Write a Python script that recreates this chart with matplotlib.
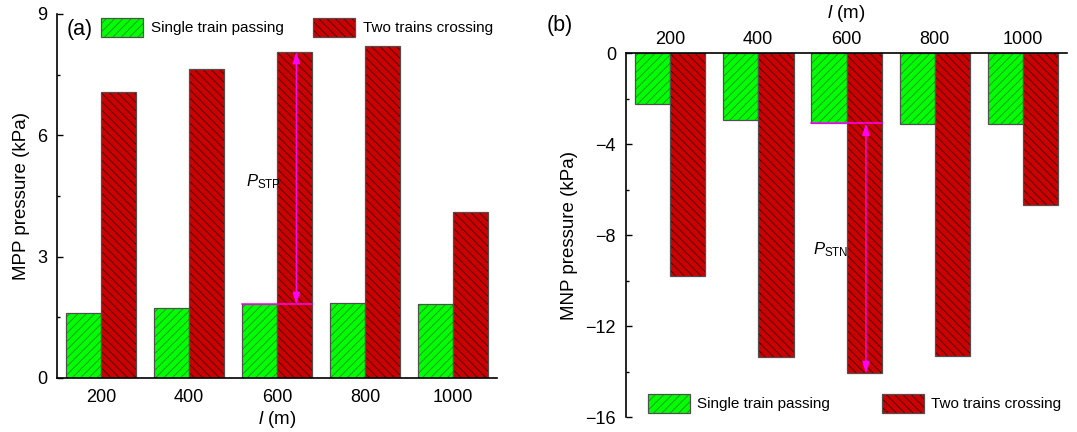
import matplotlib
matplotlib.use("Agg")
import matplotlib.pyplot as plt
import numpy as np
from matplotlib.ticker import MultipleLocator
from matplotlib.legend_handler import HandlerTuple

plt.rcParams['font.family'] = ['Liberation Sans', 'DejaVu Sans']
plt.rcParams['mathtext.fontset'] = 'custom'
plt.rcParams['mathtext.rm'] = 'Liberation Sans'
plt.rcParams['mathtext.it'] = 'Liberation Sans:italic'
plt.rcParams['hatch.linewidth'] = 0.6

lengths = ['200', '400', '600', '800', '1000']
mpp_single = [1.61, 1.73, 1.82, 1.85, 1.84]
mpp_two = [7.08, 7.64, 8.07, 8.20, 4.10]
mnp_single = [-2.24, -2.95, -3.08, -3.09, -3.11]
mnp_two = [-9.79, -13.36, -14.07, -13.32, -6.67]

GREEN = '#00ff00'
RED = '#cc0000'
GREEN_H = '#1c8c1c'
RED_H = '#3a0000'
EDGE = '#505050'
MAG = '#ff00ff'

fig = plt.figure(figsize=(10.77, 4.32), dpi=100)
axA = fig.add_axes([0.0529, 0.125, 0.4085, 0.8426])
axB = fig.add_axes([0.581, 0.034, 0.410, 0.8426])

x = np.arange(len(lengths))
w = 0.4


def draw_bars(ax, s, t):
    b1 = ax.bar(x - w / 2, s, w, color=GREEN, edgecolor=GREEN_H, hatch='////', linewidth=0)
    o1 = ax.bar(x - w / 2, s, w, fill=False, edgecolor=EDGE, linewidth=0.9)
    b2 = ax.bar(x + w / 2, t, w, color=RED, edgecolor=RED_H, hatch='\\\\\\\\', linewidth=0)
    o2 = ax.bar(x + w / 2, t, w, fill=False, edgecolor=EDGE, linewidth=0.9)
    return (b1.patches[0], o1.patches[0]), (b2.patches[0], o2.patches[0])


hA = draw_bars(axA, mpp_single, mpp_two)
hB = draw_bars(axB, mnp_single, mnp_two)

for ax in (axA, axB):
    ax.set_xlim(-0.5, 4.5)
    ax.set_xticks(x)
    ax.set_xticklabels(lengths)
    ax.tick_params(axis='x', length=0, labelsize=13, pad=8)
    ax.tick_params(axis='y', which='major', direction='in', length=4, width=1, labelsize=13, pad=7)
    ax.tick_params(axis='y', which='minor', direction='in', length=2.5, width=1)
    ax.spines['right'].set_visible(False)
    for sp in ax.spines.values():
        sp.set_linewidth(1.2)

leg_kw = dict(handler_map={tuple: HandlerTuple(ndivide=1)}, ncol=2, frameon=False,
              fontsize=11, handlelength=2.75, handleheight=1.55, handletextpad=0.5,
              borderpad=0, borderaxespad=0)
arrow_kw = dict(arrowstyle='<|-|>,head_length=0.7,head_width=0.22', color=MAG, lw=1.0,
                mutation_scale=10, shrinkA=0, shrinkB=0)

# Panel (a)
axA.set_ylim(0, 9)
axA.yaxis.set_major_locator(MultipleLocator(3))
axA.yaxis.set_minor_locator(MultipleLocator(1.5))
axA.spines['top'].set_visible(False)
axA.set_ylabel('MPP pressure (kPa)', fontsize=13.5, labelpad=5)
axA.set_xlabel(r'$\mathit{l}$ (m)', fontsize=13.5, labelpad=2)
axA.text(0.022, 0.985, '(a)', transform=axA.transAxes, fontsize=15.5, va='top', ha='left')
axA.legend(list(hA), ['Single train passing', 'Two trains crossing'],
           loc='upper left', bbox_to_anchor=(0.1, 0.99), columnspacing=1.95, **leg_kw)

# P_STP annotation
axA.plot([2 - w, 2 + w], [mpp_single[2], mpp_single[2]], color=MAG, lw=1.1)
axA.annotate('', xy=(2 + 0.22, mpp_two[2]), xytext=(2 + 0.22, mpp_single[2]),
             arrowprops=arrow_kw)
axA.text(1.65, 4.85, r'$P_{\rm STP}$', fontsize=12, ha='left', va='center')

# Panel (b)
axB.set_ylim(-16, 0)
axB.yaxis.set_major_locator(MultipleLocator(4))
axB.yaxis.set_minor_locator(MultipleLocator(2))
axB.spines['bottom'].set_visible(False)
axB.xaxis.tick_top()
axB.xaxis.set_label_position('top')
axB.tick_params(axis='x', pad=4)
axB.set_yticks([0, -4, -8, -12, -16])
axB.set_yticklabels(['0', '\u22124', '\u22128', '\u221212', '\u221216'])
axB.set_ylabel('MNP pressure (kPa)', fontsize=13.5, labelpad=5)
axB.set_xlabel(r'$\mathit{l}$ (m)', fontsize=13.5, labelpad=9)
fig.text(560 / 1077, 1 - 25 / 432, '(b)', fontsize=15.5, va='center', ha='center')
axB.legend(list(hB), ['Single train passing', 'Two trains crossing'],
           loc='lower left', bbox_to_anchor=(0.05, 0.012), columnspacing=3.35, **leg_kw)

# P_STN annotation
axB.plot([2 - w, 2 + w], [mnp_single[2], mnp_single[2]], color=MAG, lw=1.1)
axB.annotate('', xy=(2 + 0.22, mnp_two[2]), xytext=(2 + 0.22, mnp_single[2]),
             arrowprops=arrow_kw)
axB.text(1.62, -8.65, r'$P_{\rm STN}$', fontsize=12, ha='left', va='center')

fig.savefig('out.png', dpi=100)
